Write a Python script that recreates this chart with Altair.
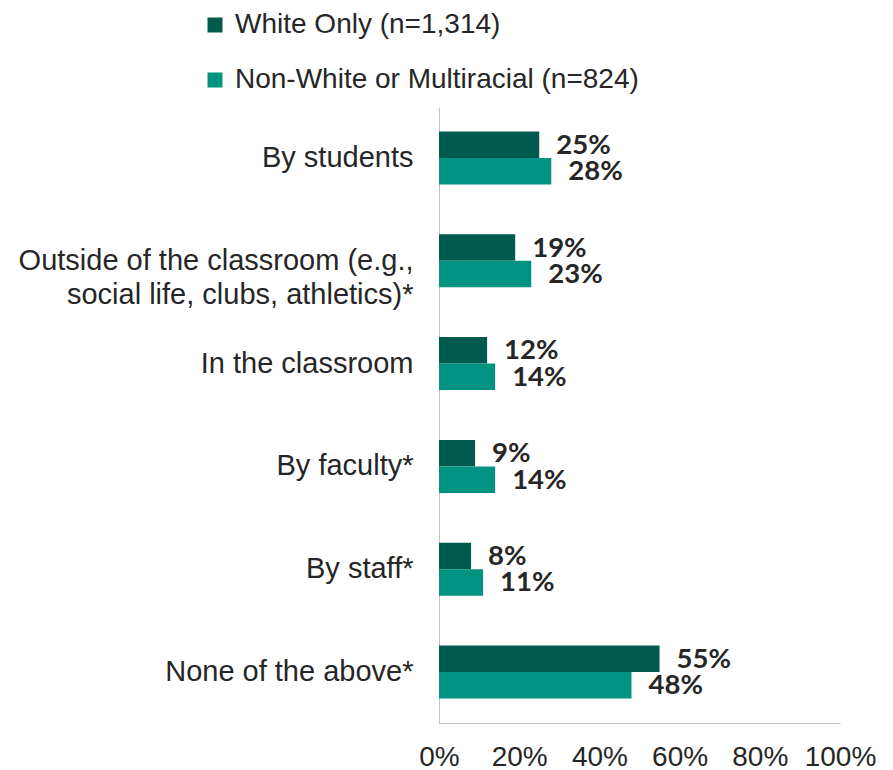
import altair as alt
import pandas as pd

categories = [
    "By students",
    "Outside of the classroom (e.g.,\nsocial life, clubs, athletics)*",
    "In the classroom",
    "By faculty*",
    "By staff*",
    "None of the above*",
]
series = ["White Only (n=1,314)", "Non-White or Multiracial (n=824)"]
white_only = [0.25, 0.19, 0.12, 0.09, 0.08, 0.55]
non_white = [0.28, 0.23, 0.14, 0.14, 0.11, 0.48]
colors = ["#005A4D", "#009381"]
tick_values = [0, 0.2, 0.4, 0.6, 0.8, 1.0]

rows = []
for c, a, b in zip(categories, white_only, non_white):
    rows.append({"cat": c, "series": series[0], "value": a})
    rows.append({"cat": c, "series": series[1], "value": b})
df = pd.DataFrame(rows)

y_enc = alt.Y("cat:N", sort=categories, title=None,
              scale=alt.Scale(paddingInner=0.484, paddingOuter=0.238),
              axis=alt.Axis(labelExpr="split(datum.label, '\\n')",
                            labelFont="Liberation Sans", labelFontSize=29,
                            labelColor="#262626", labelLineHeight=34,
                            labelPadding=26, ticks=False, domainColor="#bfbfbf",
                            labelLimit=600))
yoff = alt.YOffset("series:N", sort=series)

bars = alt.Chart(df).mark_bar().encode(
    x=alt.X("value:Q", title=None,
            scale=alt.Scale(domain=[0, 1]),
            axis=alt.Axis(values=tick_values, format=".0%",
                          grid=False, ticks=False, domainColor="#bfbfbf",
                          labelFont="Liberation Sans", labelFontSize=28,
                          labelColor="#262626", labelPadding=20,
                          labelOverlap=False, labelFlush=False)),
    y=y_enc,
    yOffset=yoff,
    color=alt.Color("series:N", sort=series,
                    scale=alt.Scale(domain=series, range=colors),
                    legend=alt.Legend(title=None, orient="none",
                                      legendX=-238, legendY=-96,
                                      symbolType="square", symbolSize=225,
                                      symbolStrokeWidth=0,
                                      labelFont="Liberation Sans",
                                      labelFontSize=28, labelColor="#262626",
                                      labelLimit=0,
                                      rowPadding=27, labelOffset=6)),
)

labels = alt.Chart(df).mark_text(
    align="left", baseline="middle", dx=17, dy=1,
    font="Lato", fontWeight="bold", fontSize=27.5, color="#262626",
).encode(
    x="value:Q",
    y=alt.Y("cat:N", sort=categories),
    yOffset=yoff,
    text=alt.Text("value:Q", format=".0%"),
)

chart = (bars + labels).properties(
    width=401, height=616,
    padding={"left": 10, "top": 3, "right": 5, "bottom": 5},
).configure_view(stroke=None)

chart.save("out.html", embed_options={"renderer": "svg", "actions": False})
